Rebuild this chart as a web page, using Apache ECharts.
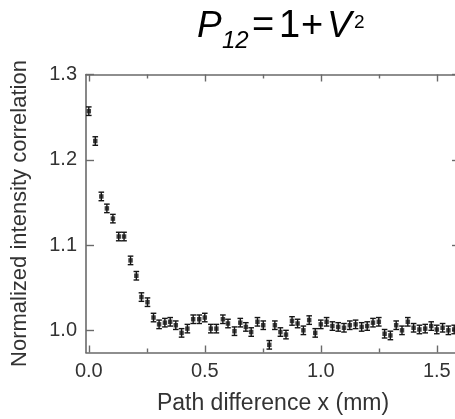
<!DOCTYPE html>
<html>
<head>
<meta charset="utf-8">
<script src="https://cdn.jsdelivr.net/npm/echarts@6/dist/echarts.min.js"></script>
<style>
  html, body { margin: 0; padding: 0; background: #fff; }
  #chart { width: 455px; height: 419px; }
</style>
</head>
<body>
<div id="chart"></div>
<script>
// Path difference (mm) of each measurement
const pathDiff = [
  0.000, 0.028, 0.054, 0.078, 0.104, 0.129, 0.152, 0.180, 0.205, 0.227,
  0.253, 0.279, 0.303, 0.328, 0.351, 0.375, 0.400, 0.425, 0.450, 0.476,
  0.500, 0.526, 0.550, 0.578, 0.600, 0.628, 0.653, 0.677, 0.700, 0.727,
  0.752, 0.778, 0.802, 0.826, 0.850, 0.876, 0.900, 0.925, 0.950, 0.976,
  1.000, 1.025, 1.050, 1.075, 1.100, 1.125, 1.150, 1.176, 1.200, 1.225,
  1.250, 1.275, 1.300, 1.325, 1.350, 1.375, 1.400, 1.425, 1.450, 1.476,
  1.500, 1.525, 1.550, 1.575
];
// Normalized intensity correlation
const correlation = [
  1.257, 1.222, 1.157, 1.143, 1.131, 1.110, 1.110, 1.082, 1.064, 1.039,
  1.033, 1.015, 1.007, 1.009, 1.010, 1.006, 0.997, 1.002, 1.013, 1.013,
  1.015, 1.002, 1.002, 1.013, 1.008, 0.999, 1.009, 1.004, 0.998, 1.010,
  1.006, 0.983, 1.006, 0.998, 0.995, 1.011, 1.008, 1.000, 1.012, 0.997,
  1.007, 1.010, 1.005, 1.004, 1.003, 1.006, 1.007, 1.004, 1.005, 1.009,
  1.010, 0.996, 0.994, 1.006, 1.000, 1.010, 1.003, 1.001, 1.002, 1.005,
  1.001, 1.003, 1.000, 1.001
];
// Half-height of each error bar
const errHalf = [
  0.005, 0.005, 0.005, 0.005, 0.005, 0.005, 0.005, 0.005, 0.005, 0.005,
  0.005, 0.005, 0.005, 0.005, 0.005, 0.005, 0.005, 0.005, 0.005, 0.005,
  0.005, 0.005, 0.005, 0.005, 0.005, 0.005, 0.005, 0.005, 0.005, 0.005,
  0.005, 0.005, 0.005, 0.005, 0.005, 0.005, 0.005, 0.005, 0.005, 0.005,
  0.005, 0.005, 0.005, 0.005, 0.005, 0.005, 0.005, 0.005, 0.005, 0.005,
  0.005, 0.005, 0.005, 0.005, 0.005, 0.005, 0.005, 0.005, 0.005, 0.005,
  0.005, 0.005, 0.005, 0.005
];

const xMajorTicks = [0, 0.5, 1.0, 1.5];
const xMinorTicks = [0.25, 0.75, 1.25];
const yTicks = [1.0, 1.1, 1.2, 1.3];

const FONT = '"Liberation Sans", Arial, Helvetica, sans-serif';
const AXIS_COLOR = '#6a6a6a';
const INK = '#151515';

const X_MIN = -0.012, X_MAX = 1.6;
const Y_MIN = 0.974, Y_MAX = 1.3;

const points = pathDiff.map((x, i) => [x, correlation[i], errHalf[i]]);

function xAxisDef(position, ticks, len, withLine, withLabels) {
  return {
    type: 'value', position, min: X_MIN, max: X_MAX,
    axisLine: { show: withLine, onZero: false, lineStyle: { color: AXIS_COLOR, width: 1.6 } },
    axisTick: { show: true, inside: true, length: len, customValues: ticks,
                lineStyle: { color: AXIS_COLOR, width: 1.4 } },
    axisLabel: withLabels ? {
      show: true, customValues: ticks, formatter: v => v.toFixed(1),
      fontSize: 20, fontFamily: FONT, color: '#333', margin: 9
    } : { show: false },
    splitLine: { show: false }
  };
}

function yAxisDef(position, withLabels) {
  return {
    type: 'value', position, min: Y_MIN, max: Y_MAX,
    axisLine: { show: true, onZero: false, lineStyle: { color: AXIS_COLOR, width: 1.6 } },
    axisTick: { show: true, inside: true, length: 8, customValues: yTicks,
                lineStyle: { color: AXIS_COLOR, width: 1.4 } },
    axisLabel: withLabels ? {
      show: true, customValues: yTicks, formatter: v => v.toFixed(1),
      fontSize: 20, fontFamily: FONT, color: '#333', margin: 9
    } : { show: false },
    splitLine: { show: false }
  };
}

const xBottom = xAxisDef('bottom', xMajorTicks, 7, true, true);
Object.assign(xBottom, {
  name: 'Path difference x (mm)', nameLocation: 'middle', nameGap: 40,
  nameTextStyle: { fontSize: 23, fontFamily: FONT, color: '#333' }
});
const yLeft = yAxisDef('left', true);
Object.assign(yLeft, {
  name: 'Normalized intensity correlation', nameLocation: 'middle', nameGap: 55,
  nameTextStyle: { fontSize: 22, fontFamily: FONT, color: '#333' }
});

function titlePiece(text, x, y, size, italic) {
  return {
    type: 'text', x, y, silent: true,
    style: {
      text, fontSize: size, fontFamily: FONT, fontStyle: italic ? 'italic' : 'normal',
      fill: '#000', verticalAlign: 'middle', align: 'left'
    }
  };
}

const chart = echarts.init(document.getElementById('chart'), null, { renderer: 'canvas' });
chart.setOption({
  animation: false,
  backgroundColor: '#fff',
  grid: { left: 86, top: 74.5, right: -5, bottom: 66.5, containLabel: false, outerBoundsMode: 'none' },
  graphic: [
    titlePiece('P', 197, 27, 37, true),
    titlePiece('12', 222, 41, 24, true),
    titlePiece('=', 252, 27, 38, false),
    titlePiece('1', 279, 27, 38, false),
    titlePiece('+', 301, 27, 38, false),
    titlePiece('V', 327, 27, 37, true),
    titlePiece('2', 354, 23, 19, false)
  ],
  xAxis: [
    xBottom,
    xAxisDef('top', xMajorTicks, 7, true, false),
    xAxisDef('bottom', xMinorTicks, 4, false, false),
    xAxisDef('top', xMinorTicks, 4, false, false)
  ],
  yAxis: [yLeft, yAxisDef('right', false)],
  series: [
    {
      type: 'custom', xAxisIndex: 0, yAxisIndex: 0,
      data: points, encode: { x: 0, y: 1 },
      renderItem: function (params, api) {
        const x = api.value(0), y = api.value(1), e = api.value(2);
        const top = api.coord([x, y + e]);
        const bot = api.coord([x, y - e]);
        const cw = 2.8;
        const style = { stroke: INK, lineWidth: 1.4 };
        return {
          type: 'group',
          children: [
            { type: 'line', shape: { x1: top[0], y1: top[1], x2: bot[0], y2: bot[1] }, style },
            { type: 'line', shape: { x1: top[0] - cw, y1: top[1], x2: top[0] + cw, y2: top[1] }, style },
            { type: 'line', shape: { x1: bot[0] - cw, y1: bot[1], x2: bot[0] + cw, y2: bot[1] }, style }
          ]
        };
      },
      z: 3
    },
    {
      type: 'scatter', xAxisIndex: 0, yAxisIndex: 0,
      data: points.map(p => [p[0], p[1]]),
      symbol: 'rect', symbolSize: 4.5,
      itemStyle: { color: INK },
      z: 4
    }
  ]
});
</script>
</body>
</html>
